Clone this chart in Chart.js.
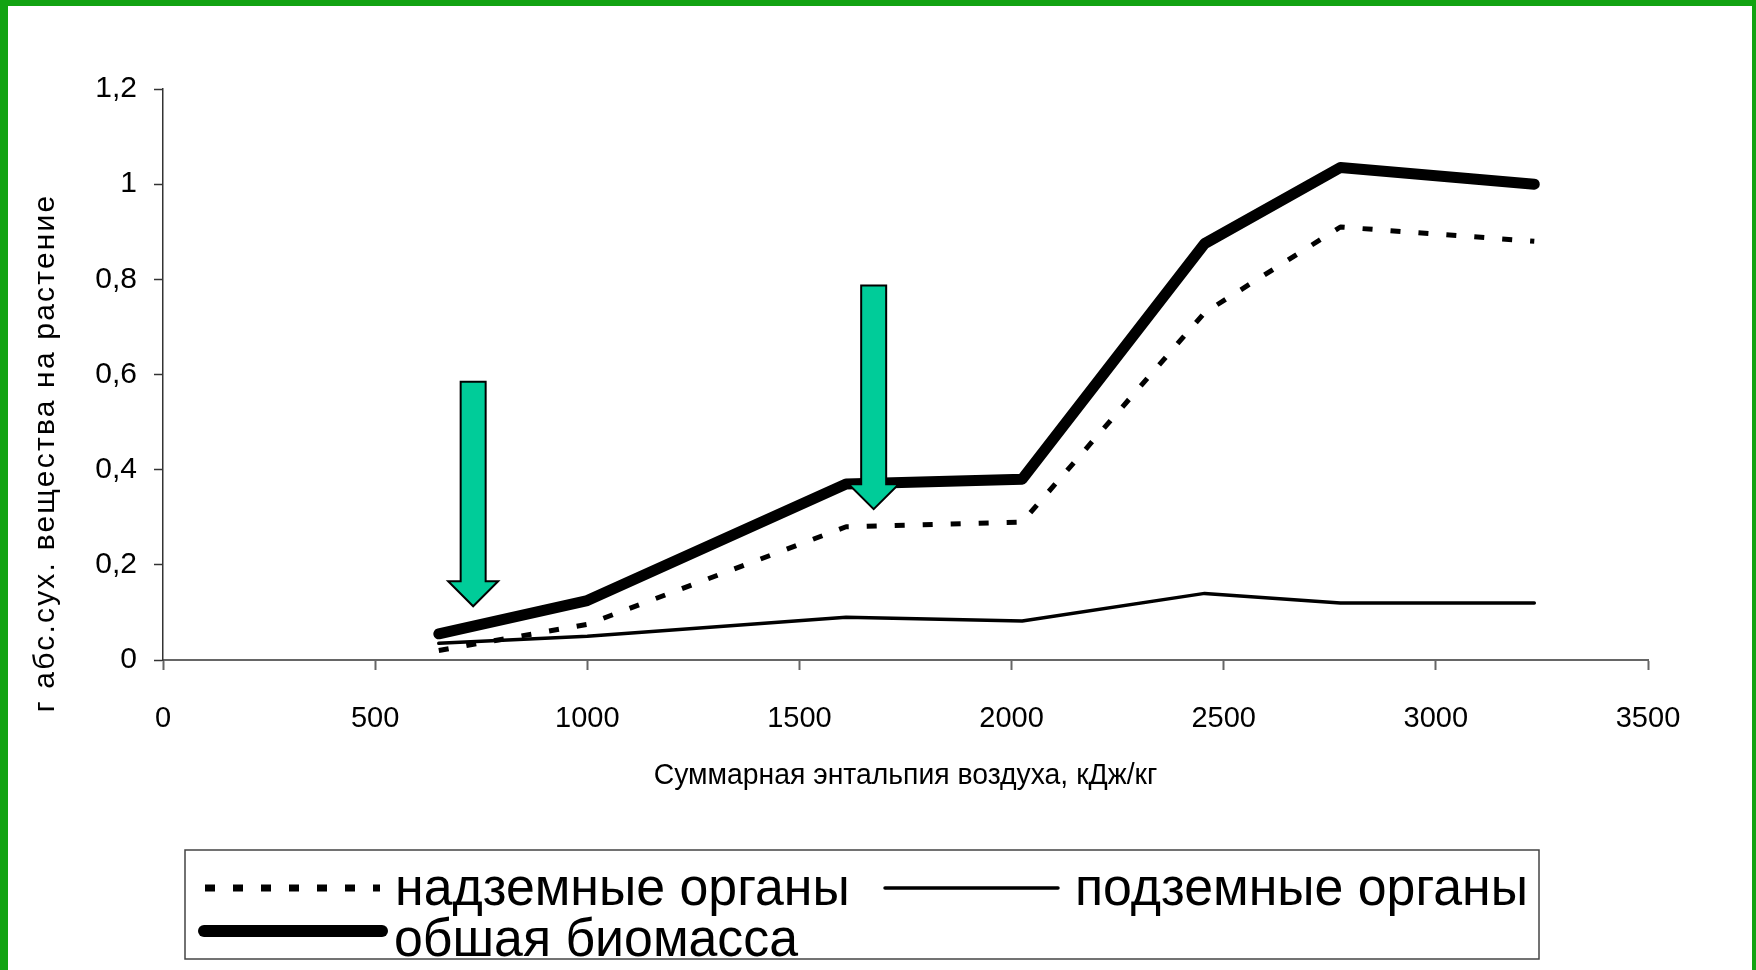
<!DOCTYPE html>
<html>
<head>
<meta charset="utf-8">
<script src="https://cdn.jsdelivr.net/npm/chart.js@4.4.1/dist/chart.umd.min.js"></script>
<style>
  html, body { margin: 0; padding: 0; background: #ffffff; }
  #wrap { width: 1756px; height: 970px; position: relative; }
</style>
</head>
<body>
<div id="wrap"><canvas id="chart"></canvas></div>
<script>
// Суммарная энтальпия воздуха, кДж/кг
const enthalpy = [650, 1000, 1610, 2025, 2455, 2775, 3232];
// г абс.сух. вещества на растение
const aboveGround = [0.02, 0.075, 0.28, 0.29, 0.73, 0.91, 0.88];
const belowGround = [0.035, 0.05, 0.09, 0.082, 0.14, 0.12, 0.12];
const totalBiomass = [0.055, 0.125, 0.37, 0.38, 0.875, 1.035, 1.0];

const seriesNames = ['надземные органы', 'подземные органы', 'обшая биомасса'];
const xTickValues = [0, 500, 1000, 1500, 2000, 2500, 3000, 3500];
const yTickValues = [0, 0.2, 0.4, 0.6, 0.8, 1, 1.2];
const xTitle = 'Суммарная энтальпия воздуха, кДж/кг';
const yTitle = 'г абс.сух. вещества на растение';

// Pointer arrows: x of the tip, y of the tip, y of the tail (data units)
const arrowX = [731, 1675];
const arrowTipY = [0.113, 0.317];
const arrowTailY = [0.585, 0.787];

const FONT = "'Liberation Sans', Arial, Helvetica, sans-serif";
Chart.defaults.font.family = FONT;
Chart.defaults.color = '#000000';

const toPoints = ys => enthalpy.map((x, i) => ({ x: x, y: ys[i] }));

const lineStyles = [
  { borderColor: '#000', borderWidth: 5, borderDash: [10, 18], borderCapStyle: 'butt' },
  { borderColor: '#000', borderWidth: 3.5, borderDash: [], borderCapStyle: 'round' },
  { borderColor: '#000', borderWidth: 11, borderDash: [], borderCapStyle: 'round' }
];

const datasets = [aboveGround, belowGround, totalBiomass].map((ys, i) => Object.assign({
  label: seriesNames[i],
  data: toPoints(ys),
  pointRadius: 0,
  pointHoverRadius: 0,
  tension: 0,
  fill: false,
  borderJoinStyle: 'round',
  clip: false
}, lineStyles[i]));

function drawArrow(ctx, x, tip, tail) {
  const shaftW = 25, headW = 50, headH = 25;
  ctx.save();
  ctx.beginPath();
  ctx.moveTo(x - shaftW / 2, tail);
  ctx.lineTo(x + shaftW / 2, tail);
  ctx.lineTo(x + shaftW / 2, tip - headH);
  ctx.lineTo(x + headW / 2, tip - headH);
  ctx.lineTo(x, tip);
  ctx.lineTo(x - headW / 2, tip - headH);
  ctx.lineTo(x - shaftW / 2, tip - headH);
  ctx.closePath();
  ctx.fillStyle = '#00cc99';
  ctx.fill();
  ctx.lineWidth = 2;
  ctx.strokeStyle = '#000';
  ctx.lineJoin = 'miter';
  ctx.stroke();
  ctx.restore();
}

function strokeSample(ctx, style, x1, x2, y, widthOverride) {
  ctx.save();
  ctx.beginPath();
  ctx.strokeStyle = style.borderColor;
  ctx.lineWidth = widthOverride || style.borderWidth;
  ctx.setLineDash(style.borderDash);
  ctx.lineCap = style.borderCapStyle;
  ctx.moveTo(x1, y);
  ctx.lineTo(x2, y);
  ctx.stroke();
  ctx.restore();
}

// Text narrowed horizontally by factor sx, anchored at (x, y)
function narrowText(ctx, text, x, y, sx) {
  ctx.save();
  ctx.translate(x, y);
  ctx.scale(sx, 1);
  ctx.fillText(text, 0, 0);
  ctx.restore();
}

const decorations = {
  id: 'decorations',
  beforeDraw(chart) {
    const ctx = chart.ctx;
    ctx.save();
    ctx.fillStyle = '#ffffff';
    ctx.fillRect(0, 0, chart.width, chart.height);
    ctx.restore();
  },
  afterDatasetsDraw(chart) {
    const ctx = chart.ctx;
    const xs = chart.scales.x, ys = chart.scales.y;
    arrowX.forEach((ax, i) => {
      drawArrow(ctx, xs.getPixelForValue(ax), ys.getPixelForValue(arrowTipY[i]), ys.getPixelForValue(arrowTailY[i]));
    });
  },
  afterDraw(chart) {
    const ctx = chart.ctx;
    const area = chart.chartArea;

    // axis titles
    ctx.save();
    ctx.fillStyle = '#000';
    ctx.font = '30px ' + FONT;
    ctx.textAlign = 'center';
    ctx.textBaseline = 'middle';
    narrowText(ctx, xTitle, (area.left + area.right) / 2, area.bottom + 116, 0.945);
    ctx.restore();

    ctx.save();
    ctx.fillStyle = '#000';
    ctx.font = '30px ' + FONT;
    ctx.textAlign = 'center';
    ctx.textBaseline = 'middle';
    ctx.letterSpacing = '2.2px';
    ctx.translate(46, 453);
    ctx.rotate(-Math.PI / 2);
    ctx.fillText(yTitle, 0, 0);
    ctx.restore();

    // legend box
    ctx.save();
    ctx.strokeStyle = '#444';
    ctx.lineWidth = 1.5;
    ctx.strokeRect(185, 850, 1354, 109);
    ctx.fillStyle = '#000';
    ctx.font = '54px ' + FONT;
    ctx.textAlign = 'left';
    ctx.textBaseline = 'alphabetic';
    strokeSample(ctx, lineStyles[0], 205, 380, 888, 7);
    narrowText(ctx, seriesNames[0], 395, 905, 0.96);
    strokeSample(ctx, lineStyles[1], 885, 1058, 888);
    narrowText(ctx, seriesNames[1], 1075, 905, 0.96);
    strokeSample(ctx, lineStyles[2], 204, 382, 931, 12);
    narrowText(ctx, seriesNames[2], 394, 956, 0.96);
    ctx.restore();

    // green frame
    ctx.save();
    ctx.fillStyle = '#12a312';
    ctx.fillRect(0, 0, 8, chart.height);
    ctx.fillRect(0, 0, chart.width, 6);
    ctx.fillRect(chart.width - 4, 0, 4, chart.height);
    ctx.restore();
  }
};

new Chart(document.getElementById('chart'), {
  type: 'line',
  data: { datasets: datasets },
  options: {
    responsive: true,
    maintainAspectRatio: false,
    animation: false,
    devicePixelRatio: 1,
    layout: { padding: { left: 8, top: 89, right: 108, bottom: 220 } },
    plugins: { legend: { display: false }, tooltip: { enabled: false } },
    scales: {
      x: {
        type: 'linear',
        min: 0,
        max: 3500,
        afterBuildTicks: s => { s.ticks = xTickValues.map(v => ({ value: v })); },
        afterFit: s => { s.height = 90; },
        ticks: { callback: v => String(v), font: { size: 29 }, color: '#000', padding: 32, maxRotation: 0, autoSkip: false },
        grid: { display: true, drawOnChartArea: false, drawTicks: true, tickLength: 10, tickColor: '#666', tickWidth: 2 },
        border: { display: true, color: '#666', width: 2 }
      },
      y: {
        min: 0,
        max: 1.2,
        afterBuildTicks: s => { s.ticks = yTickValues.map(v => ({ value: v })); },
        afterFit: s => { s.width = 155; },
        ticks: { callback: v => String(v).replace('.', ','), font: { size: 30 }, color: '#000', padding: 17, autoSkip: false },
        grid: { display: true, drawOnChartArea: false, drawTicks: true, tickLength: 9, tickColor: '#333', tickWidth: 1.5 },
        border: { display: true, color: '#333', width: 1.5 }
      }
    }
  },
  plugins: [decorations]
});
</script>
</body>
</html>
